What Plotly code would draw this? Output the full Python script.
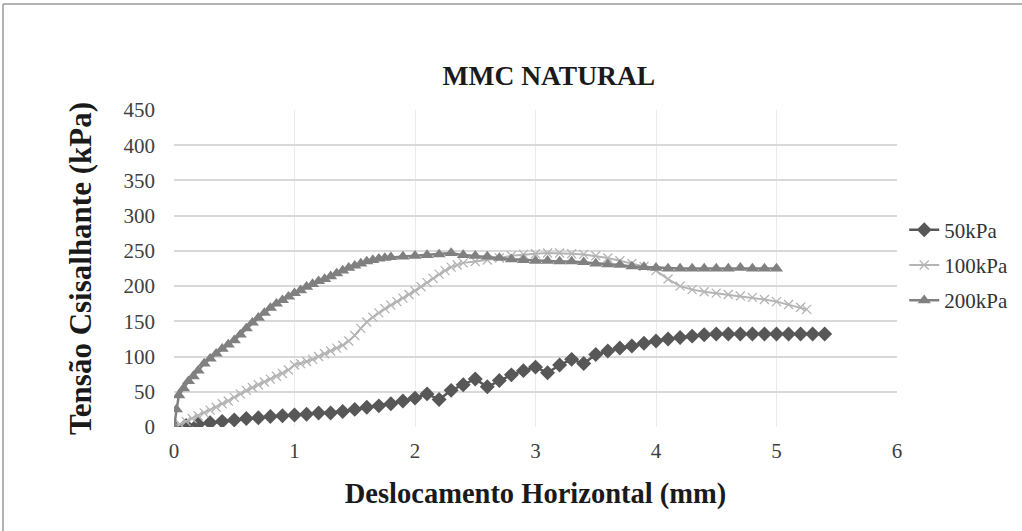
import plotly.graph_objects as go

# ---- data ----
x_50 = [0, 0.1, 0.2, 0.3, 0.4, 0.5, 0.6, 0.7, 0.8, 0.9, 1.0, 1.1, 1.2, 1.3, 1.4, 1.5, 1.6, 1.7, 1.8, 1.9,
        2.0, 2.1, 2.2, 2.3, 2.4, 2.5, 2.6, 2.7, 2.8, 2.9, 3.0, 3.1, 3.2, 3.3, 3.4, 3.5, 3.6, 3.7, 3.8, 3.9,
        4.0, 4.1, 4.2, 4.3, 4.4, 4.5, 4.6, 4.7, 4.8, 4.9, 5.0, 5.1, 5.2, 5.3, 5.4]
y_50 = [0, 2, 4, 6, 8, 10, 12, 13, 15, 16, 17, 18, 20, 20, 22, 25, 28, 30, 33, 37,
        41, 47, 39, 52, 60, 68, 57, 66, 74, 80, 85, 77, 88, 96, 90, 103, 108, 112, 115, 119,
        122, 125, 127, 129, 131, 132, 132, 132, 132, 132, 132, 132, 132, 132, 132]

x_100 = [0, 0.05, 0.1, 0.15, 0.2, 0.25, 0.3, 0.35, 0.4, 0.45, 0.5, 0.55, 0.6, 0.65, 0.7, 0.75, 0.8, 0.85,
         0.9, 0.95, 1.0, 1.05, 1.1, 1.15, 1.2, 1.25, 1.3, 1.35, 1.4, 1.45, 1.5, 1.55, 1.6, 1.65, 1.7, 1.75,
         1.8, 1.85, 1.9, 1.95, 2.0, 2.05, 2.1, 2.15, 2.2, 2.25, 2.3, 2.35, 2.4, 2.5, 2.6, 2.7, 2.8, 2.9,
         3.0, 3.1, 3.2, 3.3, 3.4, 3.5, 3.6, 3.7, 3.8, 3.9, 4.0, 4.1, 4.2, 4.3, 4.4, 4.5, 4.6, 4.7, 4.8,
         4.9, 5.0, 5.1, 5.2, 5.25]
y_100 = [0, 4, 8, 12, 16, 20, 24, 28, 33, 37, 42, 47, 52, 56, 60, 64, 68, 72,
         76, 81, 88, 90, 93, 96, 100, 104, 108, 112, 116, 122, 130, 140, 149, 156, 162, 168,
         173, 178, 183, 188, 193, 199, 205, 211, 217, 222, 227, 230, 233, 235, 237, 240, 243, 245,
         246, 247, 247, 246, 245, 243, 240, 236, 232, 228, 222, 210, 200, 195, 192, 190, 188, 186, 184,
         181, 178, 174, 170, 167]

x_200 = [0, 0.02, 0.04, 0.08, 0.12, 0.16, 0.2, 0.25, 0.3, 0.35, 0.4, 0.45, 0.5, 0.55, 0.6, 0.65, 0.7,
         0.75, 0.8, 0.85, 0.9, 0.95, 1.0, 1.05, 1.1, 1.15, 1.2, 1.25, 1.3, 1.35, 1.4, 1.45, 1.5, 1.55,
         1.6, 1.65, 1.7, 1.75, 1.8, 1.9, 2.0, 2.1, 2.2, 2.3, 2.4, 2.5, 2.6, 2.7, 2.8, 2.9, 3.0, 3.1, 3.2,
         3.3, 3.4, 3.5, 3.6, 3.7, 3.8, 3.9, 4.0, 4.1, 4.2, 4.3, 4.4, 4.5, 4.6, 4.7, 4.8, 4.9, 5.0]
y_200 = [0, 25, 45, 55, 65, 72, 80, 90, 97, 104, 111, 117, 123, 131, 140, 148, 155,
         162, 169, 175, 180, 185, 190, 194, 199, 203, 207, 210, 214, 218, 222, 226, 229, 232,
         235, 237, 239, 240, 241, 242, 243, 244, 245, 247, 244, 243, 242, 240, 238, 237, 236, 236, 235,
         235, 234, 232, 231, 230, 228, 227, 226, 225, 225, 225, 225, 225, 225, 226, 225, 225, 225]

series_names = ["50kPa", "100kPa", "200kPa"]
x_ticks = [0, 1, 2, 3, 4, 5, 6]
y_ticks = [0, 50, 100, 150, 200, 250, 300, 350, 400, 450]

FONT = "Liberation Serif, Times New Roman, Times, serif"

fig = go.Figure()
fig.add_trace(go.Scatter(x=x_50, y=y_50, name=series_names[0], mode="lines+markers", legendgroup="a",
                         line=dict(color="#575757", width=2.5),
                         marker=dict(symbol="diamond", size=11.5, color="#575757")))
fig.add_trace(go.Scatter(x=x_100, y=y_100, name=series_names[1], mode="lines+markers", legendgroup="b",
                         line=dict(color="#b4b4b4", width=2),
                         marker=dict(symbol="x-thin", size=9, color="#b4b4b4",
                                     line=dict(color="#b4b4b4", width=1.3))))
fig.add_trace(go.Scatter(x=x_200, y=y_200, name=series_names[2], mode="lines+markers", legendgroup="c",
                         line=dict(color="#808080", width=2.5),
                         marker=dict(symbol="triangle-up", size=11.5, color="#808080")))

fig.update_layout(
    width=1022, height=531,
    margin=dict(l=174, r=125, t=110, b=104, autoexpand=False),
    paper_bgcolor="white", plot_bgcolor="white",
    font=dict(family=FONT, color="#333333"),
    title=dict(text="<b>MMC NATURAL</b>", x=0.537, xanchor="center", y=0.858, yanchor="middle",
               font=dict(family=FONT, size=27.5, color="#1a1a1a")),
    xaxis=dict(range=[0, 6], tickvals=x_ticks, showgrid=True, gridcolor="#ebebeb", gridwidth=1,
               zeroline=False, showline=False, ticks="", ticklabelstandoff=9,
               tickfont=dict(family=FONT, size=21, color="#404040"),
               title=dict(text="<b>Deslocamento Horizontal (mm)</b>", standoff=21,
                          font=dict(family=FONT, size=28.5, color="#1a1a1a"))),
    yaxis=dict(range=[0, 450], tickvals=y_ticks, showgrid=True, gridcolor="#d9d9d9", gridwidth=1.5,
               zeroline=False, showline=False, ticks="", ticklabelstandoff=18,
               tickfont=dict(family=FONT, size=21, color="#404040"),
               title=dict(text="<b>Tensão Csisalhante (kPa)</b>", standoff=22,
                          font=dict(family=FONT, size=31, color="#1a1a1a"))),
    legend=dict(x=1.01, xanchor="left", y=0.511, yanchor="middle",
                font=dict(family=FONT, size=21, color="#333333"),
                bgcolor="rgba(0,0,0,0)", itemwidth=30, tracegroupgap=5),
    showlegend=True,
)

# outer chart frame (top and left edges visible)
fig.add_shape(type="line", xref="paper", yref="paper", x0=-0.2365, x1=1.2, y0=1.334, y1=1.334,
              line=dict(color="#9a9a9a", width=1.5))
fig.add_shape(type="line", xref="paper", yref="paper", x0=-0.2365, x1=-0.2365, y0=-0.4, y1=1.334,
              line=dict(color="#9a9a9a", width=1.5))

fig.write_html("out.html", config={"displayModeBar": False},
               post_script="document.body.style.margin='0';")
